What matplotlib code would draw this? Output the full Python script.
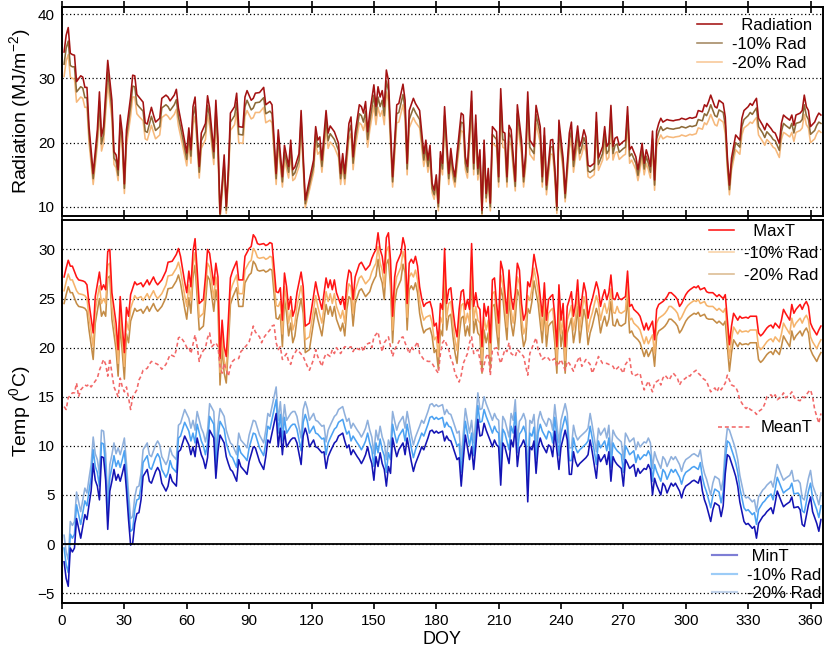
import matplotlib
matplotlib.use("Agg")
import matplotlib.pyplot as plt
from matplotlib.lines import Line2D

plt.rcParams['font.family'] = ['Liberation Sans', 'DejaVu Sans']
plt.rcParams['mathtext.fontset'] = 'custom'
plt.rcParams['mathtext.rm'] = 'Liberation Sans'
plt.rcParams['mathtext.it'] = 'Liberation Sans:italic'

# ---------------- data ----------------
rad_doy = [1,2,3,4,5,6,7,9,10,11,12,13,15,17,18,19,20,22,24,25,26,27,28,29,30,31,33,34,35,36,37,39,40,41,43,44,45,47,48,50,51,52,54,55,56,58,60,61,62,63,64,66,67,69,70,71,73,74,75,76,78,79,80,81,83,84,85,87,88,89,91,92,93,95,97,98,100,101,103,104,106,107,109,110,111,112,114,115,117,119,121,122,123,124,125,127,128,129,131,133,134,135,136,138,139,140,141,143,144,145,146,147,148,150,151,152,153,154,155,156,157,159,161,162,164,165,166,167,169,170,172,174,175,176,177,178,179,180,181,182,183,184,186,187,188,189,190,192,193,194,195,197,198,199,200,201,202,203,204,205,206,207,209,210,211,212,213,214,215,216,218,219,221,222,223,224,225,227,228,230,231,232,233,235,236,237,238,239,241,242,244,245,246,248,249,250,251,252,253,254,256,257,258,260,261,262,263,264,265,266,267,268,270,271,272,273,274,276,277,278,279,280,281,282,283,284,285,286,287,288,289,291,292,294,295,297,298,300,302,303,305,306,308,309,310,311,312,314,315,316,318,319,320,321,322,324,326,327,328,330,331,332,333,334,335,337,338,339,341,342,343,345,346,347,348,350,351,352,353,355,356,357,358,359,360,362,363,364,365]
radiation = [34.1,36.7,37.9,33.9,33.7,33.6,29.5,30.4,30.2,28.6,28.6,22.5,15.2,22.0,27.9,21.0,22.5,32.8,26.6,18.6,18.1,15.8,24.3,21.5,13.6,22.0,27.1,30.5,30.4,27.5,27.1,26.3,23.1,22.9,25.5,24.3,23.2,23.8,26.9,27.4,27.1,26.5,27.4,28.3,25.4,22.0,18.4,22.3,18.9,25.6,27.1,16.3,21.5,23.0,27.3,25.4,18.6,26.6,20.8,9.0,18.1,10.1,15.8,24.6,25.6,27.7,22.5,22.4,27.1,28.1,26.6,26.9,27.7,27.8,28.6,25.9,26.4,25.9,15.2,22.0,14.7,19.6,16.3,20.4,15.8,16.2,18.3,25.0,11.1,14.2,17.3,22.5,20.4,20.9,17.3,25.0,21.5,22.6,21.7,19.9,15.2,18.3,15.2,23.0,24.0,17.8,21.5,25.9,25.6,24.6,26.4,21.7,24.6,29.0,25.6,28.7,27.1,28.1,25.6,31.3,29.7,14.7,25.9,26.1,29.1,26.6,16.8,25.0,26.9,26.1,25.0,18.3,20.4,17.3,19.6,13.7,12.6,15.0,10.6,18.6,16.8,25.6,15.2,19.1,16.3,14.7,18.3,24.6,24.3,17.8,16.3,28.0,16.8,24.3,16.0,18.9,9.5,20.4,12.1,16.0,10.6,22.5,21.7,14.7,28.4,21.7,21.5,14.7,22.7,22.0,14.0,25.9,20.4,14.7,18.3,27.9,20.4,19.4,25.8,22.5,14.7,22.3,13.4,20.4,20.5,16.3,10.1,23.5,17.6,12.1,21.5,23.2,17.3,22.6,19.4,20.4,22.0,20.9,16.5,16.3,16.8,24.7,17.6,19.4,22.5,19.4,19.9,25.8,19.4,20.7,20.9,19.6,20.2,20.4,25.6,18.9,19.4,17.8,15.8,17.8,19.9,16.8,18.9,17.8,16.3,21.8,14.2,21.8,23.0,23.8,23.2,23.6,23.5,23.4,23.5,23.6,23.8,23.6,23.9,23.8,24.0,25.0,24.8,25.9,25.6,26.4,27.4,25.6,25.4,26.6,26.1,24.0,17.8,13.4,17.6,21.2,20.4,23.8,25.0,25.6,26.1,25.8,26.4,26.9,23.8,22.7,22.0,23.0,22.2,21.7,21.5,19.9,23.0,24.3,24.0,23.5,24.3,22.7,24.3,24.6,25.0,27.4,25.6,25.0,22.5,23.2,24.0,24.6,24.3]
rad_minus10 = [32.2,34.7,35.8,32.0,31.8,31.8,27.9,28.7,28.5,27.0,27.0,21.3,14.4,20.8,26.4,19.8,21.3,31.0,25.1,17.6,17.1,14.9,23.0,20.3,12.9,20.8,25.6,28.8,28.7,26.0,25.6,24.9,21.8,21.6,24.1,23.0,21.9,22.5,25.4,25.9,25.6,25.0,25.9,26.7,24.0,20.8,17.4,21.1,17.9,24.2,25.6,15.4,20.3,21.7,25.8,24.0,17.6,25.1,19.7,8.5,17.1,9.5,14.9,23.2,24.2,26.2,21.3,21.2,25.6,26.6,25.1,25.4,26.2,26.3,27.0,24.5,24.9,24.5,14.4,20.8,13.9,18.5,15.4,19.3,14.9,15.3,17.3,23.6,10.5,13.4,16.3,21.3,19.3,19.8,16.3,23.6,20.3,21.4,20.5,18.8,14.4,17.3,14.4,21.7,22.7,16.8,20.3,24.5,24.2,23.2,24.9,20.5,23.2,27.4,24.2,27.1,25.6,26.6,24.2,29.6,28.1,13.9,24.5,24.7,27.5,25.1,15.9,23.6,25.4,24.7,23.6,17.3,19.3,16.3,18.5,12.9,11.9,14.2,10.0,17.6,15.9,24.2,14.4,18.0,15.4,13.9,17.3,23.2,23.0,16.8,15.4,26.5,15.9,23.0,15.1,17.9,9.0,19.3,11.4,15.1,10.0,21.3,20.5,13.9,26.8,20.5,20.3,13.9,21.5,20.8,13.2,24.5,19.3,13.9,17.3,26.4,19.3,18.3,24.4,21.3,13.9,21.1,12.7,19.3,19.4,15.4,9.5,22.2,16.6,11.4,20.3,21.9,16.3,21.4,18.3,19.3,20.8,19.8,15.6,15.4,15.9,23.3,16.6,18.3,21.3,18.3,18.8,24.4,18.3,19.6,19.8,18.5,19.1,19.3,24.2,17.9,18.3,16.8,14.9,16.8,18.8,15.9,17.9,16.8,15.4,20.6,13.4,20.6,21.7,22.5,21.9,22.3,22.2,22.1,22.2,22.3,22.5,22.3,22.6,22.5,22.7,23.6,23.4,24.5,24.2,24.9,25.9,24.2,24.0,25.1,24.7,22.7,16.8,12.7,16.6,20.0,19.3,22.5,23.6,24.2,24.7,24.4,24.9,25.4,22.5,21.5,20.8,21.7,21.0,20.5,20.3,18.8,21.7,23.0,22.7,22.2,23.0,21.5,23.0,23.2,23.6,25.9,24.2,23.6,21.3,21.9,22.7,23.2,23.0]
rad_minus20 = [30.3,32.7,33.7,30.2,30.0,29.9,26.3,27.1,26.9,25.5,25.5,20.0,13.5,19.6,24.8,18.7,20.0,29.2,23.7,16.6,16.1,14.1,21.6,19.1,12.1,19.6,24.1,27.1,27.1,24.5,24.1,23.4,20.6,20.4,22.7,21.6,20.6,21.2,23.9,24.4,24.1,23.6,24.4,25.2,22.6,19.6,16.4,19.8,16.8,22.8,24.1,14.5,19.1,20.5,24.3,22.6,16.6,23.7,18.5,8.0,16.1,9.0,14.1,21.9,22.8,24.7,20.0,19.9,24.1,25.0,23.7,23.9,24.7,24.7,25.5,23.1,23.5,23.1,13.5,19.6,13.1,17.4,14.5,18.2,14.1,14.4,16.3,22.3,9.9,12.6,15.4,20.0,18.2,18.6,15.4,22.3,19.1,20.1,19.3,17.7,13.5,16.3,13.5,20.5,21.4,15.8,19.1,23.1,22.8,21.9,23.5,19.3,21.9,25.8,22.8,25.5,24.1,25.0,22.8,27.9,26.4,13.1,23.1,23.2,25.9,23.7,15.0,22.3,23.9,23.2,22.3,16.3,18.2,15.4,17.4,12.2,11.2,13.4,9.4,16.6,15.0,22.8,13.5,17.0,14.5,13.1,16.3,21.9,21.6,15.8,14.5,24.9,15.0,21.6,14.2,16.8,8.5,18.2,10.8,14.2,9.4,20.0,19.3,13.1,25.3,19.3,19.1,13.1,20.2,19.6,12.5,23.1,18.2,13.1,16.3,24.8,18.2,17.3,23.0,20.0,13.1,19.8,11.9,18.2,18.2,14.5,9.0,20.9,15.7,10.8,19.1,20.6,15.4,20.1,17.3,18.2,19.6,18.6,14.7,14.5,15.0,22.0,15.7,17.3,20.0,17.3,17.7,23.0,17.3,18.4,18.6,17.4,18.0,18.2,22.8,16.8,17.3,15.8,14.1,15.8,17.7,15.0,16.8,15.8,14.5,19.4,12.6,19.4,20.5,21.2,20.6,21.0,20.9,20.8,20.9,21.0,21.2,21.0,21.3,21.2,21.4,22.3,22.1,23.1,22.8,23.5,24.4,22.8,22.6,23.7,23.2,21.4,15.8,11.9,15.7,18.9,18.2,21.2,22.3,22.8,23.2,23.0,23.5,23.9,21.2,20.2,19.6,20.5,19.8,19.3,19.1,17.7,20.5,21.6,21.4,20.9,21.6,20.2,21.6,21.9,22.3,24.4,22.8,22.3,20.0,20.6,21.4,21.9,21.6]

maxt_doy = [1,2,3,4,5,7,8,10,11,12,13,15,16,18,19,20,21,22,23,24,26,27,28,29,30,31,32,33,35,36,38,39,41,42,44,45,46,48,50,51,53,55,56,57,59,60,61,62,63,64,65,66,68,69,70,71,73,74,75,76,77,78,79,80,81,82,84,85,87,88,90,91,92,93,94,95,97,98,99,100,101,103,104,105,106,107,108,109,110,111,112,113,115,116,117,119,120,122,123,125,127,128,129,130,131,132,134,135,136,137,138,139,140,141,143,144,145,146,148,149,150,151,152,153,154,155,156,157,158,159,160,161,163,164,165,166,167,168,169,170,171,172,173,174,175,177,178,179,180,181,182,183,184,185,186,187,188,189,190,191,192,193,194,195,196,197,198,199,200,201,202,203,204,205,206,207,208,209,210,211,212,213,214,215,216,217,218,219,220,221,222,223,224,225,226,227,228,229,230,231,232,233,234,235,236,237,238,239,240,241,242,243,244,245,246,247,248,249,250,251,252,253,254,255,257,258,259,260,261,262,263,264,265,266,267,268,269,271,272,273,274,275,277,278,279,280,281,282,284,285,286,287,289,290,291,292,293,295,296,297,298,300,301,302,304,305,306,307,309,310,311,313,314,315,316,318,319,320,321,322,323,325,326,327,329,330,331,332,334,335,336,337,339,340,341,342,343,345,346,347,348,350,351,352,353,355,356,357,358,359,360,361,363,364,365]
maxt = [27.2,28.1,28.9,28.3,28.3,27.2,26.9,26.8,26.7,26.4,24.5,21.5,25.2,27.7,25.9,26.4,25.9,29.8,30.0,25.6,22.5,19.8,25.2,22.2,19.5,24.1,23.2,25.4,26.7,26.4,26.6,26.2,26.9,26.4,27.2,26.7,26.4,26.9,27.8,28.7,28.8,29.5,30.1,29.3,26.7,25.6,27.8,26.2,29.8,31.1,27.9,24.5,24.9,27.2,30.0,29.6,26.4,28.6,27.2,18.9,22.8,20.1,19.1,22.8,27.1,27.8,28.8,26.9,26.9,29.3,30.1,30.3,31.5,31.2,30.6,30.5,30.6,30.4,30.5,30.7,30.6,25.7,25.6,26.1,22.8,27.6,26.2,23.9,25.2,23.2,23.9,25.6,27.7,26.2,22.2,22.5,23.9,26.7,25.6,23.9,27.1,26.1,26.9,25.9,26.9,25.6,24.4,25.2,23.9,26.6,27.9,27.6,24.9,27.2,28.5,28.7,28.3,27.9,28.4,29.1,29.6,30.0,31.7,30.0,29.3,27.6,31.2,31.7,28.9,23.2,27.2,28.6,29.6,31.2,30.3,24.5,28.6,29.0,28.6,29.3,28.3,26.2,25.0,24.2,24.5,24.7,23.9,22.2,22.5,20.5,24.5,23.9,30.1,24.5,25.9,26.1,23.9,22.2,21.1,23.9,25.7,25.9,23.9,24.9,23.9,30.6,24.2,25.6,24.2,23.9,20.1,24.5,23.2,24.2,20.5,26.9,27.1,24.5,22.5,28.8,27.9,25.6,23.5,27.9,25.2,23.9,25.6,28.6,27.9,24.5,22.8,23.5,26.7,26.2,27.4,29.5,28.3,27.2,25.2,23.2,26.6,22.8,24.9,25.2,25.4,23.2,20.1,26.4,22.8,24.5,20.1,24.2,24.9,25.7,23.2,24.5,26.9,23.2,24.9,26.6,25.6,23.0,24.2,24.9,26.7,25.9,24.2,25.2,25.9,24.9,25.6,27.4,25.0,24.9,25.6,25.0,24.9,25.2,27.8,24.2,24.4,23.9,23.5,23.2,22.5,21.8,22.5,21.8,22.7,20.8,23.9,24.4,24.7,24.9,25.2,25.6,25.6,25.2,24.9,24.2,24.5,25.4,25.7,25.9,26.2,26.1,26.3,25.9,26.1,25.7,25.6,25.6,25.4,25.2,25.4,25.0,25.4,22.8,20.3,22.2,23.5,22.8,23.2,23.0,23.1,23.0,23.2,23.2,23.2,21.5,21.2,21.4,22.0,22.2,22.3,22.0,22.5,22.0,22.8,23.9,23.5,22.8,24.4,23.5,23.9,24.4,23.9,24.4,24.7,24.2,22.5,22.0,21.3,21.8,22.2]
maxt_minus10 = [25.8,26.7,27.5,26.9,26.9,25.8,25.5,25.4,25.3,25.0,23.1,20.1,23.8,26.3,24.5,25.0,24.5,28.4,28.6,24.2,21.1,18.4,23.8,20.8,18.1,22.7,21.8,24.0,25.3,25.0,25.2,24.8,25.5,25.0,25.8,25.3,25.0,25.5,26.4,27.3,27.4,28.1,28.7,27.9,25.3,24.2,26.4,24.8,28.4,29.7,26.5,23.1,23.5,25.8,28.6,28.2,25.0,27.2,25.8,17.5,21.4,18.7,17.7,21.4,25.7,26.4,27.4,25.5,25.5,27.9,28.7,28.9,30.1,29.8,29.2,29.1,29.2,29.0,29.1,29.3,29.2,24.3,24.2,24.7,21.4,26.2,24.8,22.5,23.8,21.8,22.5,24.2,26.3,24.8,20.8,21.1,22.5,25.3,24.2,22.5,25.7,24.7,25.5,24.5,25.5,24.2,23.0,23.8,22.5,25.2,26.5,26.2,23.5,25.8,27.1,27.3,26.9,26.5,27.0,27.7,28.2,28.6,30.3,28.6,27.9,26.2,29.8,30.3,27.5,21.8,25.8,27.2,28.2,29.8,28.9,23.1,27.2,27.6,27.2,27.9,26.9,24.8,23.6,22.8,23.1,23.3,22.5,20.8,21.1,19.1,23.1,22.5,28.7,23.1,24.5,24.7,22.5,20.8,19.7,22.5,24.3,24.5,22.5,23.5,22.5,29.2,22.8,24.2,22.8,22.5,18.7,23.1,21.8,22.8,19.1,25.5,25.7,23.1,21.1,27.4,26.5,24.2,22.1,26.5,23.8,22.5,24.2,27.2,26.5,23.1,21.4,22.1,25.3,24.8,26.0,28.1,26.9,25.8,23.8,21.8,25.2,21.4,23.5,23.8,24.0,21.8,18.7,25.0,21.4,23.1,18.7,22.8,23.5,24.3,21.8,23.1,25.5,21.8,23.5,25.2,24.2,21.6,22.8,23.5,25.3,24.5,22.8,23.8,24.5,23.5,24.2,26.0,23.6,23.5,24.2,23.6,23.5,23.8,26.4,22.8,23.0,22.5,22.1,21.8,21.1,20.4,21.1,20.4,21.3,19.4,22.5,23.0,23.3,23.5,23.8,24.2,24.2,23.8,23.5,22.8,23.1,24.0,24.3,24.5,24.8,24.7,24.9,24.5,24.7,24.3,24.2,24.2,24.0,23.8,24.0,23.6,24.0,21.4,18.9,20.8,22.1,21.4,21.8,21.6,21.7,21.6,21.8,21.8,21.8,20.1,19.8,20.0,20.6,20.8,20.9,20.6,21.1,20.6,21.4,22.5,22.1,21.4,23.0,22.1,22.5,23.0,22.5,23.0,23.3,22.8,21.1,20.6,19.9,20.4,20.8]
maxt_minus20 = [24.5,25.4,26.2,25.6,25.6,24.5,24.2,24.1,24.0,23.7,21.8,18.8,22.5,25.0,23.2,23.7,23.2,27.1,27.3,22.9,19.8,17.1,22.5,19.5,16.8,21.4,20.5,22.7,24.0,23.7,23.9,23.5,24.2,23.7,24.5,24.0,23.7,24.2,25.1,26.0,26.1,26.8,27.4,26.6,24.0,22.9,25.1,23.5,27.1,28.4,25.2,21.8,22.2,24.5,27.3,26.9,23.7,25.9,24.5,16.2,20.1,17.4,16.4,20.1,24.4,25.1,26.1,24.2,24.2,26.6,27.4,27.6,28.8,28.5,27.9,27.8,27.9,27.7,27.8,28.0,27.9,23.0,22.9,23.4,20.1,24.9,23.5,21.2,22.5,20.5,21.2,22.9,25.0,23.5,19.5,19.8,21.2,24.0,22.9,21.2,24.4,23.4,24.2,23.2,24.2,22.9,21.7,22.5,21.2,23.9,25.2,24.9,22.2,24.5,25.8,26.0,25.6,25.2,25.7,26.4,26.9,27.3,29.0,27.3,26.6,24.9,28.5,29.0,26.2,20.5,24.5,25.9,26.9,28.5,27.6,21.8,25.9,26.3,25.9,26.6,25.6,23.5,22.3,21.5,21.8,22.0,21.2,19.5,19.8,17.8,21.8,21.2,27.4,21.8,23.2,23.4,21.2,19.5,18.4,21.2,23.0,23.2,21.2,22.2,21.2,27.9,21.5,22.9,21.5,21.2,17.4,21.8,20.5,21.5,17.8,24.2,24.4,21.8,19.8,26.1,25.2,22.9,20.8,25.2,22.5,21.2,22.9,25.9,25.2,21.8,20.1,20.8,24.0,23.5,24.7,26.8,25.6,24.5,22.5,20.5,23.9,20.1,22.2,22.5,22.7,20.5,17.4,23.7,20.1,21.8,17.4,21.5,22.2,23.0,20.5,21.8,24.2,20.5,22.2,23.9,22.9,20.3,21.5,22.2,24.0,23.2,21.5,22.5,23.2,22.2,22.9,24.7,22.3,22.2,22.9,22.3,22.2,22.5,25.1,21.5,21.7,21.2,20.8,20.5,19.8,19.1,19.8,19.1,20.0,18.1,21.2,21.7,22.0,22.2,22.5,22.9,22.9,22.5,22.2,21.5,21.8,22.7,23.0,23.2,23.5,23.4,23.6,23.2,23.4,23.0,22.9,22.9,22.7,22.5,22.7,22.3,22.7,20.1,17.6,19.5,20.8,20.1,20.5,20.3,20.4,20.3,20.5,20.5,20.5,18.8,18.5,18.7,19.3,19.5,19.6,19.3,19.8,19.3,20.1,21.2,20.8,20.1,21.7,20.8,21.2,21.7,21.2,21.7,22.0,21.5,19.8,19.3,18.6,19.1,19.5]

meant_doy = [1,2,3,5,6,7,8,9,11,12,13,14,16,17,18,20,21,22,23,24,25,27,28,29,30,31,32,33,34,36,37,38,39,41,42,43,45,46,47,48,50,51,52,54,55,56,57,59,60,61,62,64,65,66,67,69,70,71,72,74,75,76,77,78,80,81,82,83,85,86,87,89,90,91,92,93,95,96,97,98,100,101,102,103,104,105,106,108,109,110,111,113,114,116,118,119,121,122,123,125,126,127,129,130,131,132,134,135,136,138,139,140,141,143,144,145,146,148,149,150,152,153,154,155,157,158,159,160,162,163,164,165,167,168,169,171,172,173,174,176,177,178,180,181,182,183,184,186,187,188,189,191,192,193,195,196,197,198,200,201,202,204,205,206,207,209,210,211,213,214,215,216,218,219,220,222,223,224,225,227,228,229,230,231,233,234,235,237,238,239,240,242,243,244,246,247,249,250,252,254,255,257,258,260,262,263,265,266,268,270,271,273,274,275,276,278,279,280,282,283,284,285,287,288,289,290,292,293,294,296,297,298,300,301,302,303,305,306,307,308,310,311,312,314,315,316,317,319,320,321,322,324,325,326,328,329,330,331,333,334,335,337,338,339,341,342,343,344,346,347,348,350,351,352,353,355,356,357,359,360,361,362,364,365]
meant = [14.0,13.7,14.9,15.4,15.4,16.4,15.0,15.7,16.2,16.1,16.3,16.0,16.6,16.9,17.7,18.8,18.3,17.1,18.9,17.4,16.0,15.0,16.9,16.0,15.5,16.0,14.9,13.7,15.0,15.7,16.7,17.1,17.7,17.9,18.3,18.6,18.4,18.3,18.1,17.8,18.3,18.8,19.3,19.1,19.8,21.0,21.1,20.5,20.0,20.1,19.4,21.3,20.1,18.6,19.4,20.0,21.0,21.5,20.1,20.5,20.1,18.1,17.4,18.4,17.1,18.1,18.6,18.8,18.9,19.6,19.8,20.3,20.6,21.3,22.2,21.6,21.1,20.5,21.0,21.3,21.8,22.2,22.3,20.5,19.8,20.1,18.8,19.4,18.6,18.3,19.1,19.8,19.6,19.1,18.1,17.7,18.8,19.8,19.1,18.1,18.9,19.4,19.1,19.8,19.4,20.0,19.4,19.8,20.1,20.0,20.1,19.6,20.0,19.8,20.1,19.6,20.3,20.5,20.0,21.1,21.6,20.5,19.6,20.5,21.1,20.1,19.1,19.8,20.6,21.0,21.1,20.5,19.4,20.1,19.8,20.6,19.4,19.1,18.8,18.6,18.6,18.4,17.7,17.4,19.4,20.5,20.8,19.8,18.9,18.4,17.4,16.5,17.2,18.4,19.4,20.5,21.1,19.4,19.8,18.8,17.4,19.1,19.4,17.2,19.8,20.0,19.1,18.4,19.8,19.6,20.5,19.4,19.1,19.8,19.6,19.1,18.1,17.2,19.4,20.5,21.0,19.8,19.3,18.8,19.1,18.9,18.6,18.9,18.1,18.4,18.8,17.7,18.6,18.4,17.6,18.3,19.1,18.1,18.8,18.3,17.4,18.4,19.1,18.4,18.4,18.3,18.1,17.7,18.1,17.4,18.3,18.9,17.4,17.1,17.2,17.4,16.4,15.7,16.6,16.0,15.5,16.4,16.7,16.2,16.9,17.2,16.7,17.1,17.4,16.9,16.2,16.6,16.9,17.2,17.1,17.4,17.7,17.4,17.2,16.9,16.6,16.0,15.5,15.9,15.5,16.0,15.7,16.4,17.2,16.7,16.2,16.0,15.5,14.7,14.0,13.8,14.0,13.7,13.5,13.2,13.5,13.8,14.3,15.0,15.2,14.9,15.2,14.7,15.0,15.4,14.9,15.2,15.5,15.0,14.7,14.6,15.0,14.9,15.5,15.7,15.0,13.7,12.3,13.3]

mint_doy = [1,2,3,4,5,6,7,8,9,10,11,12,13,14,15,16,17,18,19,20,21,22,23,24,25,26,27,28,29,30,31,32,33,34,35,36,37,38,39,41,42,43,45,46,47,48,50,51,52,53,55,56,57,58,59,61,62,63,64,65,67,68,69,70,71,73,74,75,76,78,79,80,81,82,84,85,86,88,89,90,92,93,94,95,97,98,99,100,102,103,104,105,106,107,108,110,111,112,113,115,116,117,118,119,121,122,123,125,126,127,128,129,131,132,133,135,136,137,138,139,140,142,143,144,145,146,147,148,149,150,151,152,153,154,155,156,157,158,159,160,161,162,164,165,166,167,168,169,170,172,173,174,176,177,178,179,180,181,183,184,185,186,187,188,190,191,192,193,194,196,197,198,199,200,201,202,203,204,206,207,208,209,210,211,212,213,215,216,217,218,219,220,221,222,223,224,225,226,227,228,229,230,231,233,234,235,236,237,238,239,240,242,243,244,245,246,247,248,249,251,252,253,254,255,257,258,259,261,262,263,264,265,266,267,269,270,271,272,273,275,276,277,278,280,281,282,283,284,285,286,288,289,290,291,293,294,295,297,298,299,300,302,303,304,306,307,308,309,310,312,313,314,316,317,318,319,320,321,323,324,325,326,328,329,330,332,333,334,335,337,338,339,341,342,343,344,346,347,348,350,351,352,354,355,356,357,359,360,361,363,364,365]
mint = [-1.8,-3.5,-4.3,-0.4,-0.8,-0.4,2.6,1.6,0.6,1.8,3.0,2.5,4.0,5.4,8.2,6.5,5.9,4.5,8.9,8.8,6.5,1.5,5.4,6.4,7.6,6.5,7.1,6.4,7.2,8.1,5.5,2.5,-0.1,0.1,2.1,3.1,3.2,4.5,6.9,7.6,6.4,6.2,7.4,7.8,7.4,6.2,5.4,5.9,7.1,6.4,5.9,9.4,9.6,10.3,11.0,10.1,9.1,9.9,8.9,10.8,9.1,8.6,7.7,8.8,11.6,10.8,6.7,9.4,11.1,10.3,8.9,8.2,7.6,7.4,6.4,8.6,7.9,7.4,7.1,8.4,9.9,9.8,9.1,8.4,7.6,8.9,10.6,10.3,12.3,13.3,9.9,11.8,9.1,11.5,9.9,10.6,10.8,10.8,10.3,8.1,11.0,11.8,11.1,9.9,10.6,9.9,9.8,9.3,9.4,7.7,8.9,9.4,10.3,10.5,11.0,11.3,10.5,9.8,10.1,9.1,9.6,8.9,8.6,8.2,8.6,9.1,9.9,8.9,8.2,6.5,8.9,7.9,9.3,8.2,7.6,5.9,7.9,7.2,10.8,9.8,8.9,9.6,10.3,9.1,10.8,9.6,8.4,7.4,8.2,9.3,9.9,9.6,10.8,11.5,11.6,11.3,11.5,11.3,11.5,10.5,11.0,10.6,10.5,9.9,8.6,8.8,5.9,8.6,11.1,8.6,9.9,7.6,9.9,12.7,11.0,11.1,12.3,11.6,10.5,9.9,10.6,10.1,9.9,6.0,10.3,9.9,8.2,10.6,9.9,12.0,7.9,9.8,10.1,10.6,9.9,4.3,9.9,9.6,10.5,7.2,9.9,10.8,10.1,9.3,10.1,9.9,8.9,11.5,9.6,7.6,9.9,11.6,10.6,7.1,7.1,9.4,8.4,7.9,8.2,8.6,8.8,9.1,10.6,9.4,6.7,9.1,8.4,9.1,8.1,9.4,6.4,8.9,8.4,8.1,7.7,5.9,8.6,8.2,7.7,8.1,6.9,7.7,7.2,7.7,7.6,8.1,7.6,5.0,6.7,6.0,5.0,6.2,5.9,5.2,6.2,5.9,6.2,5.4,4.7,5.5,5.9,6.2,6.4,6.5,6.2,6.9,5.4,4.5,3.9,2.3,3.5,4.2,3.9,2.8,3.9,7.2,9.1,8.9,7.6,6.9,5.9,4.3,2.3,2.0,2.1,1.6,1.8,0.6,2.1,2.8,3.0,3.3,3.7,3.1,4.2,5.4,4.3,3.8,4.0,4.3,4.8,3.7,3.8,3.5,2.0,1.8,4.0,4.8,3.3,2.1,1.3,2.5]
mint_minus10 = [-0.4,-2.1,-2.9,1.0,0.6,1.0,4.0,3.0,2.0,3.2,4.4,3.9,5.4,6.8,9.6,7.9,7.3,5.9,10.3,10.2,7.9,2.9,6.8,7.8,9.0,7.9,8.5,7.8,8.6,9.5,6.9,3.9,1.3,1.5,3.5,4.5,4.6,5.9,8.3,9.0,7.8,7.6,8.8,9.2,8.8,7.6,6.8,7.3,8.5,7.8,7.3,10.8,11.0,11.7,12.4,11.5,10.5,11.3,10.3,12.2,10.5,10.0,9.1,10.2,13.0,12.2,8.1,10.8,12.5,11.7,10.3,9.6,9.0,8.8,7.8,10.0,9.3,8.8,8.5,9.8,11.3,11.2,10.5,9.8,9.0,10.3,12.0,11.7,13.7,14.7,11.3,13.2,10.5,12.9,11.3,12.0,12.2,12.2,11.7,9.5,12.4,13.2,12.5,11.3,12.0,11.3,11.2,10.7,10.8,9.1,10.3,10.8,11.7,11.9,12.4,12.7,11.9,11.2,11.5,10.5,11.0,10.3,10.0,9.6,10.0,10.5,11.3,10.3,9.6,7.9,10.3,9.3,10.7,9.6,9.0,7.3,9.3,8.6,12.2,11.2,10.3,11.0,11.7,10.5,12.2,11.0,9.8,8.8,9.6,10.7,11.3,11.0,12.2,12.9,13.0,12.7,12.9,12.7,12.9,11.9,12.4,12.0,11.9,11.3,10.0,10.2,7.3,10.0,12.5,10.0,11.3,9.0,11.3,14.1,12.4,12.5,13.7,13.0,11.9,11.3,12.0,11.5,11.3,7.4,11.7,11.3,9.6,12.0,11.3,13.4,9.3,11.2,11.5,12.0,11.3,5.7,11.3,11.0,11.9,8.6,11.3,12.2,11.5,10.7,11.5,11.3,10.3,12.9,11.0,9.0,11.3,13.0,12.0,8.5,8.5,10.8,9.8,9.3,9.6,10.0,10.2,10.5,12.0,10.8,8.1,10.5,9.8,10.5,9.5,10.8,7.8,10.3,9.8,9.5,9.1,7.3,10.0,9.6,9.1,9.5,8.3,9.1,8.6,9.1,9.0,9.5,9.0,6.4,8.1,7.4,6.4,7.6,7.3,6.6,7.6,7.3,7.6,6.8,6.1,6.9,7.3,7.6,7.8,7.9,7.6,8.3,6.8,5.9,5.3,3.7,4.9,5.6,5.3,4.2,5.3,8.6,10.5,10.3,9.0,8.3,7.3,5.7,3.7,3.4,3.5,3.0,3.2,2.0,3.5,4.2,4.4,4.7,5.1,4.5,5.6,6.8,5.7,5.2,5.4,5.7,6.2,5.1,5.2,4.9,3.4,3.2,5.4,6.2,4.7,3.5,2.7,3.9]
mint_minus20 = [0.9,-0.8,-1.6,2.3,1.9,2.3,5.3,4.3,3.3,4.5,5.7,5.2,6.7,8.1,10.9,9.2,8.6,7.2,11.6,11.5,9.2,4.2,8.1,9.1,10.3,9.2,9.8,9.1,9.9,10.8,8.2,5.2,2.6,2.8,4.8,5.8,5.9,7.2,9.6,10.3,9.1,8.9,10.1,10.5,10.1,8.9,8.1,8.6,9.8,9.1,8.6,12.1,12.3,13.0,13.7,12.8,11.8,12.6,11.6,13.5,11.8,11.3,10.4,11.5,14.3,13.5,9.4,12.1,13.8,13.0,11.6,10.9,10.3,10.1,9.1,11.3,10.6,10.1,9.8,11.1,12.6,12.5,11.8,11.1,10.3,11.6,13.3,13.0,15.0,16.0,12.6,14.5,11.8,14.2,12.6,13.3,13.5,13.5,13.0,10.8,13.7,14.5,13.8,12.6,13.3,12.6,12.5,12.0,12.1,10.4,11.6,12.1,13.0,13.2,13.7,14.0,13.2,12.5,12.8,11.8,12.3,11.6,11.3,10.9,11.3,11.8,12.6,11.6,10.9,9.2,11.6,10.6,12.0,10.9,10.3,8.6,10.6,9.9,13.5,12.5,11.6,12.3,13.0,11.8,13.5,12.3,11.1,10.1,10.9,12.0,12.6,12.3,13.5,14.2,14.3,14.0,14.2,14.0,14.2,13.2,13.7,13.3,13.2,12.6,11.3,11.5,8.6,11.3,13.8,11.3,12.6,10.3,12.6,15.4,13.7,13.8,15.0,14.3,13.2,12.6,13.3,12.8,12.6,8.7,13.0,12.6,10.9,13.3,12.6,14.7,10.6,12.5,12.8,13.3,12.6,7.0,12.6,12.3,13.2,9.9,12.6,13.5,12.8,12.0,12.8,12.6,11.6,14.2,12.3,10.3,12.6,14.3,13.3,9.8,9.8,12.1,11.1,10.6,10.9,11.3,11.5,11.8,13.3,12.1,9.4,11.8,11.1,11.8,10.8,12.1,9.1,11.6,11.1,10.8,10.4,8.6,11.3,10.9,10.4,10.8,9.6,10.4,9.9,10.4,10.3,10.8,10.3,7.7,9.4,8.7,7.7,8.9,8.6,7.9,8.9,8.6,8.9,8.1,7.4,8.2,8.6,8.9,9.1,9.2,8.9,9.6,8.1,7.2,6.6,5.0,6.2,6.9,6.6,5.5,6.6,9.9,11.8,11.6,10.3,9.6,8.6,7.0,5.0,4.7,4.8,4.3,4.5,3.3,4.8,5.5,5.7,6.0,6.4,5.8,6.9,8.1,7.0,6.5,6.7,7.0,7.5,6.4,6.5,6.2,4.7,4.5,6.7,7.5,6.0,4.8,4.0,5.2]

x_ticks = [0, 30, 60, 90, 120, 150, 180, 210, 240, 270, 300, 330, 360]
rad_yticks = [10, 20, 30, 40]
temp_yticks = [-5, 0, 5, 10, 15, 20, 25, 30]

# ---------------- styles ----------------
C_RAD, C_RAD10, C_RAD20 = '#a31212', '#8c6a38', '#f6b97c'
C_MAX, C_MAX10, C_MAX20 = '#ff1414', '#f5b46c', '#c48c46'
C_MEAN = '#f26868'
C_MIN, C_MIN10, C_MIN20 = '#1414b4', '#4ca2f2', '#8fb0dc'
LW = 1.15

W, H = 829, 655
fig = plt.figure(figsize=(W / 100, H / 100), dpi=100)
L, R = 62, 823
ax1 = fig.add_axes([L / W, 1 - 216 / H, (R - L) / W, (216 - 7) / H])
ax2 = fig.add_axes([L / W, 1 - 603 / H, (R - L) / W, (603 - 220) / H])

for ax in (ax1, ax2):
    for s in ax.spines.values():
        s.set_linewidth(1.4)
    ax.set_xlim(0, 366)
    ax.set_xticks(x_ticks)
    ax.tick_params(axis='y', length=0, labelsize=11, pad=5)
    ax.grid(axis='y', linestyle=(0, (1, 2)), color='black', linewidth=0.9)
    ax.set_axisbelow(True)

# ---- top panel ----
ax1.plot(rad_doy, rad_minus20, color=C_RAD20, lw=LW)
ax1.plot(rad_doy, rad_minus10, color=C_RAD10, lw=LW)
ax1.plot(rad_doy, radiation, color=C_RAD, lw=LW)
ax1.set_ylim(8.6, 41.1)
ax1.set_yticks(rad_yticks)
ax1.tick_params(axis='x', top=True, bottom=True, direction='inout', length=8,
                width=1.2, labelbottom=False)
ax1.set_ylabel('Radiation (MJ/m$^{-2}$)', fontsize=14)
ax1.yaxis.set_label_coords(-0.038, 0.5)
h1 = [Line2D([], [], color=c, lw=LW, alpha=a) for c, a in
      ((C_RAD, 1.0), (C_RAD10, 0.8), (C_RAD20, 0.8))]
ax1.legend(h1, ['  Radiation', '-10% Rad', '-20% Rad'], loc='upper right',
           bbox_to_anchor=(1.0, 1.0), frameon=False, fontsize=12,
           handlelength=1.5, handletextpad=0.6, labelspacing=0.25,
           borderaxespad=0.25)

# ---- bottom panel ----
ax2.plot(maxt_doy, maxt_minus20, color=C_MAX20, lw=LW)
ax2.plot(maxt_doy, maxt_minus10, color=C_MAX10, lw=LW)
ax2.plot(maxt_doy, maxt, color=C_MAX, lw=LW)
ax2.plot(meant_doy, meant, color=C_MEAN, lw=LW, linestyle=(0, (2.5, 1.8)))
ax2.plot(mint_doy, mint_minus20, color=C_MIN20, lw=LW)
ax2.plot(mint_doy, mint_minus10, color=C_MIN10, lw=LW)
ax2.plot(mint_doy, mint, color=C_MIN, lw=LW)
ax2.axhline(0, color='black', lw=1.3)
ax2.set_ylim(-6.0, 33.0)
ax2.set_yticks(temp_yticks)
ax2.tick_params(axis='x', top=False, bottom=True, direction='out', length=4,
                width=1.2, labelsize=11, pad=4)
ax2.set_ylabel('Temp ($^{0}$C)', fontsize=14)
ax2.yaxis.set_label_coords(-0.038, 0.5)
ax2.set_xlabel('DOY', fontsize=13, labelpad=2)

hmax = [Line2D([], [], color=c, lw=LW, alpha=a) for c, a in
        ((C_MAX, 1.0), (C_MAX10, 0.6), (C_MAX20, 0.6))]
leg_max = ax2.legend(hmax, ['  MaxT', '-10% Rad', '-20% Rad'], loc='upper right',
                     bbox_to_anchor=(1.0, 1.0), frameon=False, fontsize=12,
                     handlelength=1.5, handletextpad=0.6, labelspacing=0.42,
                     borderpad=0.15, borderaxespad=0.1)
ax2.add_artist(leg_max)
hmean = [Line2D([], [], color=C_MEAN, lw=LW, linestyle=(0, (2.5, 1.8)))]
leg_mean = ax2.legend(hmean, ['MeanT'], loc='center right',
                      bbox_to_anchor=(1.0, 0.457), frameon=False, fontsize=12,
                      handlelength=2.0, handletextpad=0.6, borderaxespad=0.2)
ax2.add_artist(leg_mean)
hmin = [Line2D([], [], color=c, lw=LW + 0.4, alpha=0.55) for c in
        (C_MIN, C_MIN10, C_MIN20)]
ax2.legend(hmin, [' MinT', '-10% Rad', '-20% Rad'], loc='lower right',
           bbox_to_anchor=(1.0, 0.0), frameon=False, fontsize=12,
           handlelength=1.5, handletextpad=0.6, labelspacing=0.22,
           borderpad=0.0, borderaxespad=0.1)

fig.savefig('out.png', dpi=100)
